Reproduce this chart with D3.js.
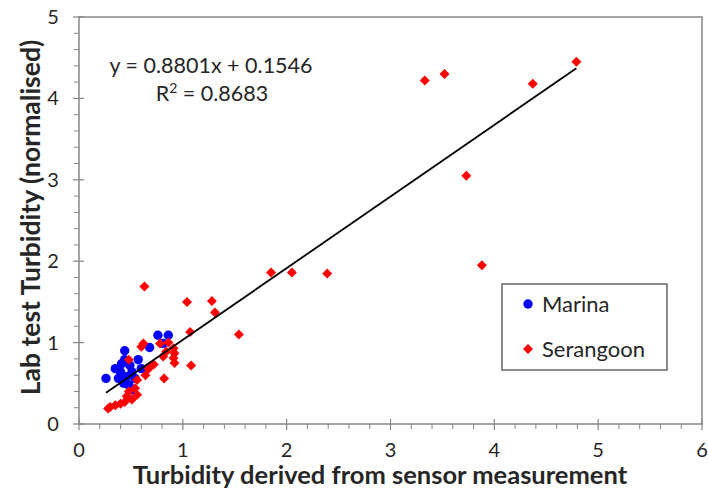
<!DOCTYPE html>
<html>
<head>
<meta charset="utf-8">
<script src="https://cdn.jsdelivr.net/npm/d3@7"></script>
<style>
  body { margin: 0; background: #fff; }
  text { font-family: Lato, "Open Sans", sans-serif; fill: #262626; }
</style>
</head>
<body>
<div id="chart"></div>
<script>
const xTicks = [0, 1, 2, 3, 4, 5, 6];
const yTicks = [0, 1, 2, 3, 4, 5];
const seriesNames = ["Marina", "Serangoon"];

const marinaX = [0.26, 0.44, 0.76, 0.86, 0.68, 0.57, 0.41, 0.40, 0.38, 0.49, 0.51, 0.46, 0.48, 0.54, 0.60, 0.43, 0.51, 0.81, 0.35, 0.44];
const marinaY = [0.56, 0.90, 1.09, 1.09, 0.94, 0.79, 0.74, 0.64, 0.56, 0.72, 0.64, 0.58, 0.48, 0.56, 0.68, 0.50, 0.42, 0.99, 0.68, 0.79];

const serangoonX = [4.79, 4.37, 3.33, 3.52, 3.73, 3.88, 2.39, 1.85, 2.05, 1.04, 1.28, 1.31, 1.07, 1.54, 1.08,
  0.63, 0.82, 0.60, 0.78, 0.86, 0.81, 0.92, 0.91, 0.92, 0.84, 0.72, 0.67, 0.64, 0.56, 0.48, 0.56, 0.51, 0.44,
  0.40, 0.35, 0.30, 0.28, 0.46, 0.54, 0.91, 0.48, 0.62];
const serangoonY = [4.45, 4.18, 4.22, 4.30, 3.05, 1.95, 1.85, 1.86, 1.86, 1.50, 1.51, 1.37, 1.13, 1.10, 0.72,
  1.69, 0.56, 0.95, 0.99, 1.00, 0.83, 0.87, 0.81, 0.75, 0.89, 0.73, 0.68, 0.60, 0.54, 0.40, 0.36, 0.30, 0.27,
  0.25, 0.23, 0.21, 0.19, 0.34, 0.44, 0.93, 0.79, 0.99];

const slope = 0.8801, intercept = 0.1546, rSquared = 0.8683;

const width = 708, height = 492;
const margin = {top: 17, right: 6, bottom: 68, left: 79};
const w = width - margin.left - margin.right;
const h = height - margin.top - margin.bottom;

const svg = d3.select("#chart").append("svg")
  .attr("width", width)
  .attr("height", height);

const g = svg.append("g")
  .attr("transform", "translate(" + margin.left + "," + margin.top + ")");

const xScale = d3.scaleLinear().domain([0, 6]).range([0, w]);
const yScale = d3.scaleLinear().domain([0, 5]).range([h, 0]);

// plot border
g.append("rect")
  .attr("x", 0).attr("y", 0).attr("width", w).attr("height", h)
  .attr("fill", "none").attr("stroke", "#868686").attr("stroke-width", 1.5);

// minor ticks
const xMinor = d3.range(0, 6.001, 0.2).filter(v => Math.abs(v - Math.round(v)) > 0.01);
const yMinor = d3.range(0, 5.001, 0.2).filter(v => Math.abs(v - Math.round(v)) > 0.01);

g.selectAll(".xminor").data(xMinor).enter().append("line")
  .attr("x1", d => xScale(d)).attr("x2", d => xScale(d))
  .attr("y1", h).attr("y2", h + 5)
  .attr("stroke", "#868686").attr("stroke-width", 1);
g.selectAll(".yminor").data(yMinor).enter().append("line")
  .attr("x1", -5).attr("x2", 0)
  .attr("y1", d => yScale(d)).attr("y2", d => yScale(d))
  .attr("stroke", "#868686").attr("stroke-width", 1);

// major ticks cross the axis
g.selectAll(".xmajor").data(xTicks).enter().append("line")
  .attr("x1", d => xScale(d)).attr("x2", d => xScale(d))
  .attr("y1", h - 5).attr("y2", h + 6)
  .attr("stroke", "#868686").attr("stroke-width", 1.2);
g.selectAll(".ymajor").data(yTicks).enter().append("line")
  .attr("x1", -6).attr("x2", 5)
  .attr("y1", d => yScale(d)).attr("y2", d => yScale(d))
  .attr("stroke", "#868686").attr("stroke-width", 1.2);

g.selectAll(".xlab").data(xTicks).enter().append("text")
  .attr("x", d => xScale(d)).attr("y", h + 33)
  .attr("text-anchor", "middle").attr("font-size", 20)
  .text(d => d);
g.selectAll(".ylab").data(yTicks).enter().append("text")
  .attr("x", -26).attr("y", d => yScale(d)).attr("dy", "0.35em")
  .attr("text-anchor", "middle").attr("font-size", 20)
  .text(d => d);

// axis titles
svg.append("text")
  .attr("x", 380).attr("y", 484)
  .attr("text-anchor", "middle").attr("font-size", 25.5).attr("font-weight", "bold")
  .text("Turbidity derived from sensor measurement");
svg.append("text")
  .attr("transform", "translate(40," + (margin.top + h / 2 - 3) + ") rotate(-90)")
  .attr("text-anchor", "middle").attr("font-size", 26.5).attr("font-weight", "bold")
  .text("Lab test Turbidity (normalised)");

// points
const marina = marinaX.map((x, i) => [x, marinaY[i]]);
const serangoon = serangoonX.map((x, i) => [x, serangoonY[i]]);

g.selectAll(".marina").data(marina).enter().append("circle")
  .attr("cx", d => xScale(d[0])).attr("cy", d => yScale(d[1]))
  .attr("r", 4.7).attr("fill", "#0000ff");

const diamond = d3.symbol().type(d3.symbolSquare).size(50);
g.selectAll(".serangoon").data(serangoon).enter().append("path")
  .attr("d", diamond)
  .attr("transform", d => "translate(" + xScale(d[0]) + "," + yScale(d[1]) + ") rotate(45)")
  .attr("fill", "#ff0000");

// trend line over the data range
const allX = marinaX.concat(serangoonX);
const xExt = d3.extent(allX);
const line = d3.line()
  .x(d => xScale(d))
  .y(d => yScale(slope * d + intercept));
g.append("path")
  .attr("d", line(xExt))
  .attr("fill", "none").attr("stroke", "#000").attr("stroke-width", 1.8);

// equation
g.append("text")
  .attr("x", 211 - margin.left).attr("y", 73 - margin.top)
  .attr("text-anchor", "middle").attr("font-size", 21.5)
  .text("y = " + slope + "x + " + intercept);
const r2 = g.append("text")
  .attr("x", 212 - margin.left).attr("y", 101 - margin.top)
  .attr("text-anchor", "middle").attr("font-size", 21.5);
r2.append("tspan").text("R");
r2.append("tspan").attr("font-size", 14).attr("dy", -8).text("2");
r2.append("tspan").attr("dy", 8).text(" = " + rSquared);

// legend
const legend = svg.append("g").attr("transform", "translate(502,284)");
legend.append("rect")
  .attr("width", 165).attr("height", 86)
  .attr("fill", "#fff").attr("stroke", "#666").attr("stroke-width", 1.5);
legend.append("circle").attr("cx", 26).attr("cy", 20).attr("r", 4.7).attr("fill", "#0000ff");
legend.append("path").attr("d", diamond)
  .attr("transform", "translate(26,65) rotate(45)").attr("fill", "#ff0000");
legend.selectAll(".ltext").data(seriesNames).enter().append("text")
  .attr("x", 40).attr("y", (d, i) => 20 + i * 45).attr("dy", "0.35em")
  .attr("font-size", 22)
  .text(d => d);
</script>
</body>
</html>
